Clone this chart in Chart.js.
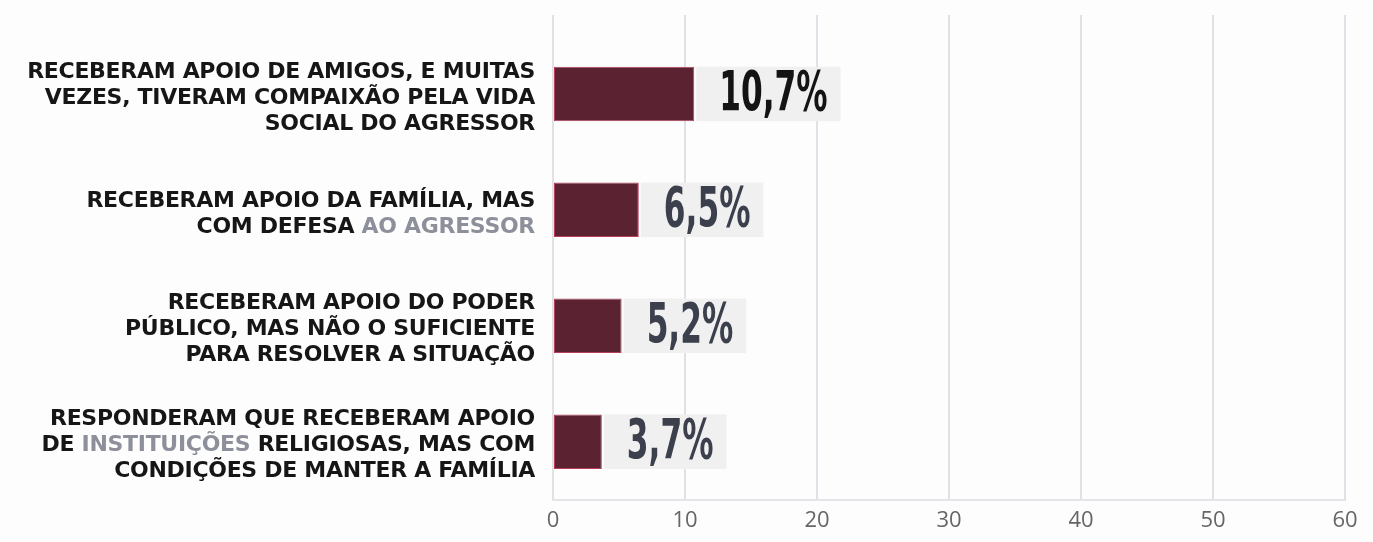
<!DOCTYPE html>
<html>
<head>
<meta charset="utf-8">
<script src="https://cdn.jsdelivr.net/npm/chart.js@4"></script>
<style>
	body { margin: 0; background: #fdfdfd; }
	#wrap { width: 1373px; height: 542px; position: relative; }
</style>
</head>
<body>
<div id="wrap"><canvas id="apoioChart"></canvas></div>
<script>
// categories, one array of lines each
const categories = [
	["RECEBERAM APOIO DE AMIGOS, E MUITAS", "VEZES, TIVERAM COMPAIXÃO PELA VIDA", "SOCIAL DO AGRESSOR"],
	["RECEBERAM APOIO DA FAMÍLIA, MAS", "COM DEFESA AO AGRESSOR"],
	["RECEBERAM APOIO DO PODER", "PÚBLICO, MAS NÃO O SUFICIENTE", "PARA RESOLVER A SITUAÇÃO"],
	["RESPONDERAM QUE RECEBERAM APOIO", "DE INSTITUIÇÕES RELIGIOSAS, MAS COM", "CONDIÇÕES DE MANTER A FAMÍLIA"],
];
const mutedWords = ["AO AGRESSOR", "INSTITUIÇÕES"];
const values = [10.7, 6.5, 5.2, 3.7];
const valueLabels = ["10,7%", "6,5%", "5,2%", "3,7%"];
const xTicks = [0, 10, 20, 30, 40, 50, 60];

const LABEL_FONT = 'bold 22px "DejaVu Sans", sans-serif';
const VALUE_FONT = 'bold 56px "Liberation Sans Narrow", "DejaVu Sans Condensed", sans-serif';
const GRID_COLOR = "#e0e0e6";

// draws one line right aligned, muted words in grey
function drawLine(ctx, text, right, y) {
	let parts = [{ t: text, muted: false }];
	mutedWords.forEach((w) => {
		const next = [];
		parts.forEach((p) => {
			const i = p.muted ? -1 : p.t.indexOf(w);
			if (i < 0) { next.push(p); return; }
			if (i > 0) next.push({ t: p.t.slice(0, i), muted: false });
			next.push({ t: w, muted: true });
			if (i + w.length < p.t.length) next.push({ t: p.t.slice(i + w.length), muted: false });
		});
		parts = next;
	});
	const total = parts.reduce((s, p) => s + ctx.measureText(p.t).width, 0);
	let x = right - total;
	parts.forEach((p) => {
		ctx.fillStyle = p.muted ? "#8d909a" : "#161616";
		ctx.fillText(p.t, x, y);
		x += ctx.measureText(p.t).width;
	});
}

const labelsPlugin = {
	id: "labelsPlugin",
	beforeDatasetsDraw(chart) {
		// grid lines run a bit above the plot area
		const ctx = chart.ctx;
		const xScale = chart.scales.x;
		ctx.save();
		ctx.strokeStyle = GRID_COLOR;
		ctx.lineWidth = 2;
		xTicks.forEach((v) => {
			const x = xScale.getPixelForValue(v);
			ctx.beginPath();
			ctx.moveTo(x, 15);
			ctx.lineTo(x, chart.chartArea.top);
			ctx.stroke();
		});
		ctx.restore();
	},
	afterDatasetsDraw(chart) {
		const ctx = chart.ctx;
		const yScale = chart.scales.y;
		const meta = chart.getDatasetMeta(0);
		ctx.save();
		// category texts
		ctx.font = LABEL_FONT;
		ctx.letterSpacing = "-0.3px";
		ctx.textBaseline = "middle";
		ctx.textAlign = "left";
		categories.forEach((lines, i) => {
			const cy = yScale.getPixelForValue(i) + 4;
			const lh = 26;
			lines.forEach((line, j) => {
				drawLine(ctx, line, 535, cy + (j - (lines.length - 1) / 2) * lh);
			});
		});
		ctx.letterSpacing = "0px";
		// value labels with their grey band
		meta.data.forEach((bar, i) => {
			const h = bar.height;
			const x0 = bar.x + 25;
			ctx.font = VALUE_FONT;
			const sx = 0.62;
			const w = ctx.measureText(valueLabels[i]).width * sx;
			ctx.fillStyle = "#f0f0f0";
			ctx.fillRect(bar.x + 2, bar.y - h / 2, w + 36, h);
			ctx.save();
			ctx.translate(x0, bar.y + 2);
			ctx.scale(sx, 1);
			ctx.fillStyle = i === 0 ? "#141414" : "#3b404c";
			ctx.textBaseline = "middle";
			ctx.fillText(valueLabels[i], 0, 0);
			ctx.restore();
		});
		ctx.restore();
	},
};

const ctx = document.getElementById("apoioChart").getContext("2d");
new Chart(ctx, {
	type: "bar",
	data: {
		labels: categories,
		datasets: [
			{
				data: values,
				backgroundColor: "#5b2231",
				borderColor: "#b8405c",
				borderWidth: 1,
				borderSkipped: false,
				barPercentage: 0.47,
				categoryPercentage: 1,
			},
		],
	},
	options: {
		indexAxis: "y",
		responsive: true,
		maintainAspectRatio: false,
		animation: false,
		layout: { padding: { top: 36, right: 28, bottom: 0, left: 0 } },
		scales: {
			x: {
				min: xTicks[0],
				max: xTicks[xTicks.length - 1],
				afterBuildTicks: (s) => { s.ticks = xTicks.map((v) => ({ value: v })); },
				grid: { color: GRID_COLOR, lineWidth: 2, drawTicks: false },
				border: { display: true, color: "#e4e4e8", width: 2 },
				ticks: {
					padding: 8,
					color: "#666666",
					font: { family: '"Open Sans", sans-serif', size: 22 },
				},
			},
			y: {
				grid: { display: false },
				border: { display: false },
				ticks: { display: false },
				afterFit: (s) => { s.width = 553; },
			},
		},
		plugins: {
			legend: { display: false },
			tooltip: { enabled: false },
		},
	},
	plugins: [labelsPlugin],
});
</script>
</body>
</html>
